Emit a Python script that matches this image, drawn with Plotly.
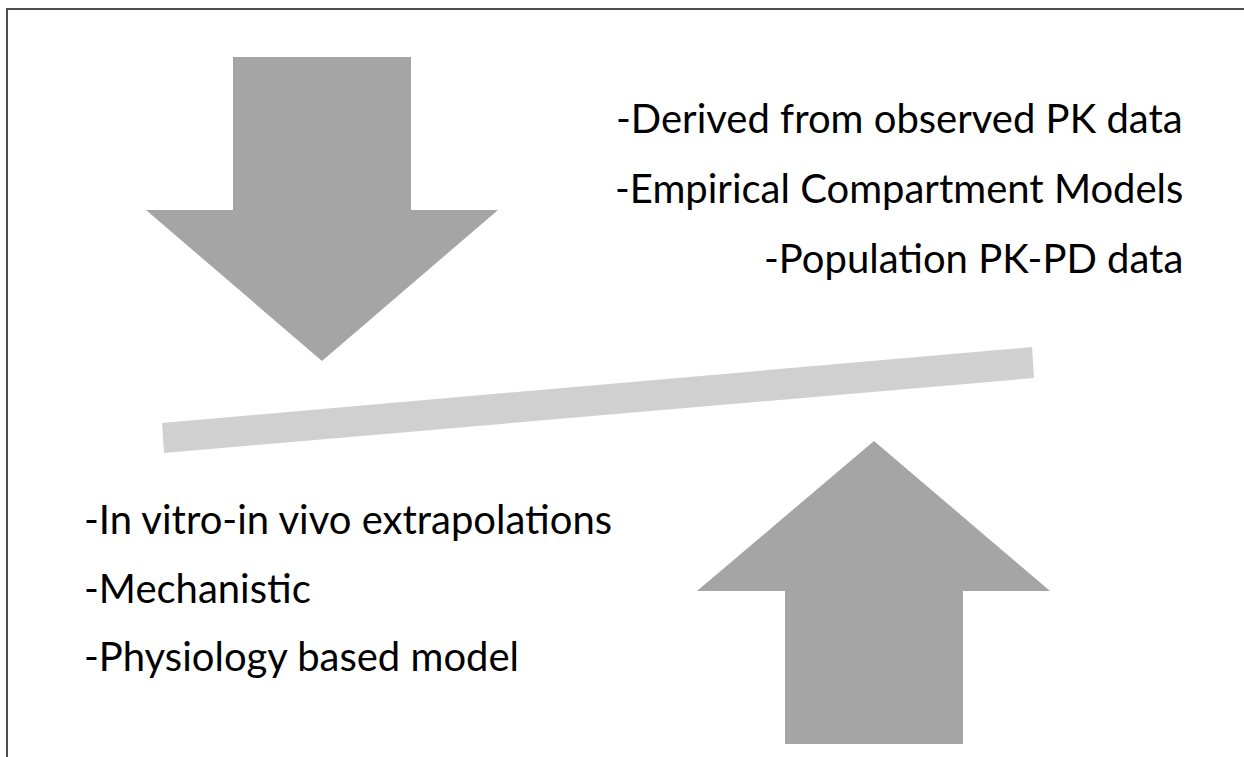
import plotly.graph_objects as go

# Text content
right_lines = ["-Derived from observed PK data",
               "-Empirical Compartment Models",
               "-Population PK-PD data"]
left_lines = ["-In vitro-in vivo extrapolations",
              "-Mechanistic",
              "-Physiology based model"]

# Shape outlines (canvas pixel coordinates)
down_arrow_x = [233, 411, 411, 498, 322, 146, 233, 233]
down_arrow_y = [57, 57, 210, 210, 361, 210, 210, 57]
up_arrow_x = [785, 963, 963, 1050, 874, 697, 785, 785]
up_arrow_y = [744, 744, 591, 591, 441, 591, 591, 744]
beam_x = [162, 1032, 1034, 164, 162]
beam_y = [423, 347, 378, 453, 423]

right_y = [118, 188, 258]
left_y = [519, 588, 656]

W, H = 1244, 757
fig = go.Figure()

fig.add_trace(go.Scatter(x=beam_x, y=beam_y, mode="lines", fill="toself",
                         fillcolor="#d0d0d0", line=dict(width=0, color="#d0d0d0"),
                         hoverinfo="skip", showlegend=False))
fig.add_trace(go.Scatter(x=down_arrow_x, y=down_arrow_y, mode="lines", fill="toself",
                         fillcolor="#a5a5a5", line=dict(width=0, color="#a5a5a5"),
                         hoverinfo="skip", showlegend=False))
fig.add_trace(go.Scatter(x=up_arrow_x, y=up_arrow_y, mode="lines", fill="toself",
                         fillcolor="#a5a5a5", line=dict(width=0, color="#a5a5a5"),
                         hoverinfo="skip", showlegend=False))

# Border (top and left)
fig.add_trace(go.Scatter(x=[7, 7, W], y=[H, 9, 9], mode="lines",
                         line=dict(width=2, color="#4d4d4d"),
                         hoverinfo="skip", showlegend=False))

font = dict(family="Lato", size=40, color="#000000")
for txt, yy in zip(right_lines, right_y):
    fig.add_annotation(x=1185, y=yy, text=txt, showarrow=False, xanchor="right",
                       yanchor="middle", font=font)
for txt, yy in zip(left_lines, left_y):
    fig.add_annotation(x=82, y=yy, text=txt, showarrow=False, xanchor="left",
                       yanchor="middle", font=font)

fig.update_xaxes(range=[0, W], visible=False, fixedrange=True)
fig.update_yaxes(range=[H, 0], visible=False, fixedrange=True)
fig.update_layout(width=W, height=H, margin=dict(l=0, r=0, t=0, b=0),
                  paper_bgcolor="white", plot_bgcolor="white", showlegend=False)

fig.write_html("out.html", config={"displayModeBar": False},
               post_script="document.body.style.margin='0';document.body.style.overflow='hidden';")
